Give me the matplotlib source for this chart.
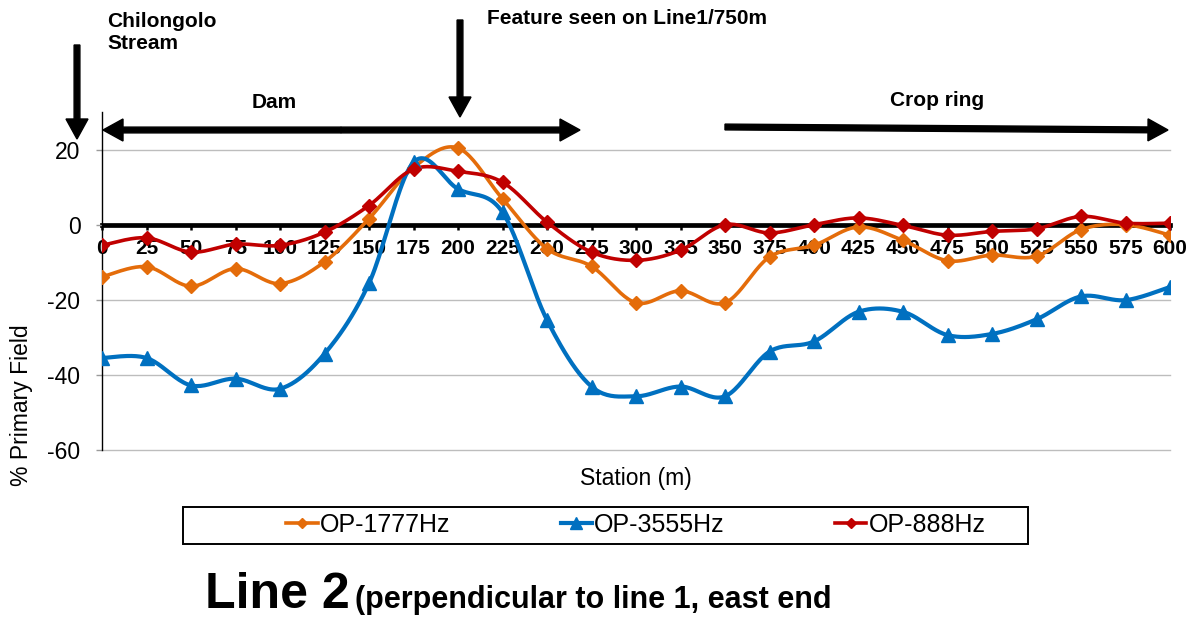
import numpy as np
import matplotlib
matplotlib.use("Agg")
import matplotlib.pyplot as plt
from matplotlib.patches import FancyArrow, Rectangle
from matplotlib.transforms import IdentityTransform

plt.rcParams["font.family"] = ["Liberation Sans", "DejaVu Sans"]
plt.rcParams["axes.unicode_minus"] = False

# Survey stations along Line 2 (m) and out-of-phase response (% primary field)
stations = [0, 25, 50, 75, 100, 125, 150, 175, 200, 225, 250, 275, 300,
            325, 350, 375, 400, 425, 450, 475, 500, 525, 550, 575, 600]
op_1777 = [-13.9, -11.2, -16.4, -11.7, -15.7, -9.9, 1.6, 15.2, 20.4, 6.9,
           -6.4, -11.1, -20.8, -17.6, -20.8, -8.6, -5.5, -0.6, -4.2, -9.6,
           -8.1, -8.4, -1.3, 0.0, -2.8]
op_3555 = [-35.5, -35.5, -42.8, -41.0, -43.7, -34.4, -15.6, 16.6, 9.5, 3.3,
           -25.4, -43.1, -45.7, -43.1, -45.7, -33.8, -31.1, -23.2, -23.2,
           -29.4, -29.1, -25.2, -19.1, -20.1, -16.6]
op_888 = [-5.5, -3.5, -7.3, -5.2, -5.5, -2.0, 5.1, 14.8, 14.2, 11.3, 0.7,
          -7.3, -9.5, -6.8, 0.0, -2.2, 0.0, 1.8, -0.2, -2.8, -1.8, -1.1,
          2.2, 0.4, 0.4]
series_labels = ["OP-1777Hz", "OP-3555Hz", "OP-888Hz"]
series_colors = ["#E46C0A", "#0070C0", "#C00000"]

W, H = 1203, 619


def smooth(x, y, n=24):
    """Cardinal (Catmull-Rom style) Bezier smoothing through every point."""
    p = np.column_stack([x, y]).astype(float)
    ext = np.vstack([p[0], p, p[-1]])
    t = np.linspace(0, 1, n)[:, None]
    out = []
    for i in range(len(p) - 1):
        p0, p1, p2, p3 = ext[i], ext[i + 1], ext[i + 2], ext[i + 3]
        c1 = p1 + (p2 - p0) / 6.0
        c2 = p2 - (p3 - p1) / 6.0
        seg = ((1 - t) ** 3) * p1 + 3 * ((1 - t) ** 2) * t * c1 \
            + 3 * (1 - t) * t ** 2 * c2 + t ** 3 * p2
        out.append(seg if i == 0 else seg[1:])
    s = np.vstack(out)
    return s[:, 0], s[:, 1]


fig = plt.figure(figsize=(W / 100, H / 100), dpi=100)
ax = fig.add_axes([102 / W, (H - 450) / H, (1170 - 102) / W, (450 - 112) / H])

ax.set_xlim(0, 600)
ax.set_ylim(-60, 30)
ax.set_yticks([-60, -40, -20, 0, 20])
ax.set_xticks(stations)
ax.set_xticklabels([str(s) for s in stations])

for yv in [-60, -40, -20, 20]:
    ax.axhline(yv, color="#BDBDBD", lw=1.0, zorder=0, clip_on=False)

ax.spines["top"].set_visible(False)
ax.spines["right"].set_visible(False)
ax.spines["left"].set_linewidth(1.0)
ax.spines["bottom"].set_position(("data", 0))
ax.spines["bottom"].set_linewidth(3.4)
ax.spines["bottom"].set_zorder(1)

ax.tick_params(axis="y", direction="out", length=4.5, width=1.0,
               color="#9A9A9A", pad=11, labelsize=16.5)
ax.tick_params(axis="x", direction="out", length=3.6, width=1.8,
               color="black", pad=7, labelsize=15)
for lab in ax.get_xticklabels():
    lab.set_fontweight("bold")

styles = [dict(marker="D", ms=6.8, lw=2.6),
          dict(marker="^", ms=10.5, lw=3.0),
          dict(marker="D", ms=6.8, lw=2.6)]
handles = []
for vals, lab, col, st in zip([op_1777, op_3555, op_888], series_labels,
                              series_colors, styles):
    sx, sy = smooth(stations, vals)
    ax.plot(sx, sy, color=col, lw=st["lw"], zorder=3, solid_capstyle="round")
    ax.plot(stations, vals, ls="none", marker=st["marker"], ms=st["ms"],
            color=col, zorder=4)
    h, = ax.plot([], [], color=col, lw=st["lw"], marker=st["marker"],
                 ms=st["ms"] * 0.8, label=lab)
    handles.append(h)

# axis titles
fig.text(636 / W, 1 - 479 / H, "Station (m)", ha="center", va="center",
         fontsize=16.5)
fig.text(22 / W, 1 - 405 / H, "% Primary Field", ha="center", va="center",
         rotation=90, fontsize=16.5)

# legend box
fig.add_artist(Rectangle((183, H - 544), 845, 37, transform=IdentityTransform(),
                         fill=False, edgecolor="black", lw=1.4))
fig.legend(handles=handles, loc="center", ncol=3,
           bbox_to_anchor=(636 / W, 1 - 525 / H), frameon=False,
           fontsize=18, handlelength=1.25, handletextpad=0.1,
           columnspacing=4.4)


def arrow(x0, y0, x1, y1):
    fig.add_artist(FancyArrow(x0, H - y0, x1 - x0, -(y1 - y0), width=5.8,
                              head_width=22, head_length=20,
                              length_includes_head=True, color="black",
                              transform=IdentityTransform(), zorder=5))


# annotations above the profile
arrow(77, 45, 77, 139)
arrow(460, 20, 460, 117)
arrow(341, 130, 103, 130)
arrow(341, 130, 580, 130)
arrow(725, 127, 1168, 130)

fig.text(107 / W, 1 - 12 / H, "Chilongolo\nStream", ha="left", va="top",
         fontsize=15, fontweight="bold", linespacing=1.2)
fig.text(487 / W, 1 - 19 / H, "Feature seen on Line1/750m", ha="left",
         va="center", fontsize=15, fontweight="bold")
fig.text(274 / W, 1 - 103 / H, "Dam", ha="center", va="center",
         fontsize=15, fontweight="bold")
fig.text(937 / W, 1 - 101 / H, "Crop ring", ha="center", va="center",
         fontsize=15, fontweight="bold")

# figure caption
fig.text(205 / W, 1 - 608 / H, "Line 2", ha="left", va="baseline",
         fontsize=36, fontweight="bold")
fig.text(355 / W, 1 - 608 / H, "(perpendicular to line 1, east end",
         ha="left", va="baseline", fontsize=22, fontweight="bold")

fig.savefig("out.png", dpi=100)
